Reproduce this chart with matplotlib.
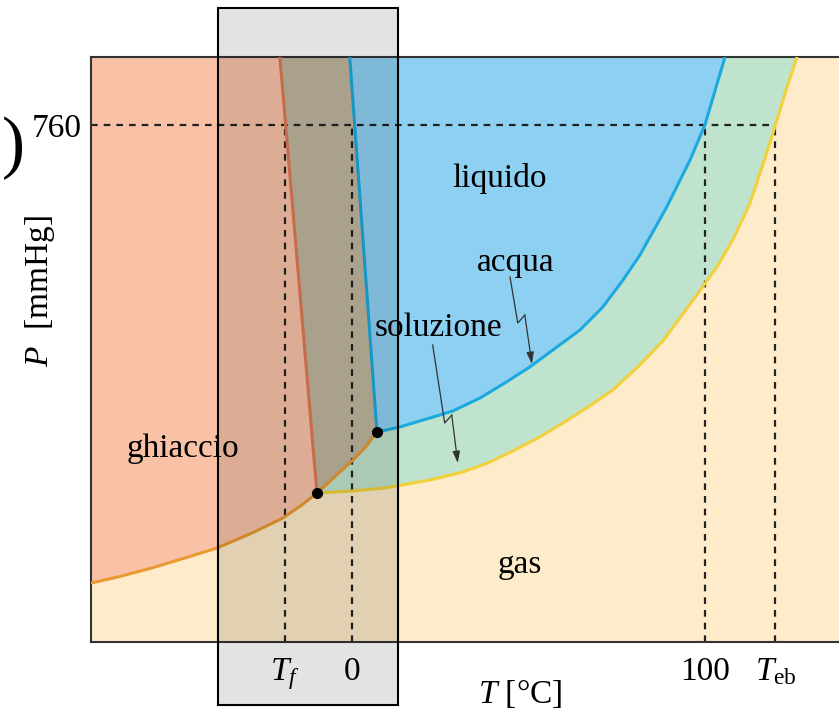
import numpy as np
import matplotlib
matplotlib.use("Agg")
import matplotlib.pyplot as plt
from matplotlib.patches import Rectangle

plt.rcParams['font.family'] = 'serif'
plt.rcParams['font.serif'] = ['Liberation Serif', 'DejaVu Serif']
plt.rcParams['mathtext.fontset'] = 'custom'
plt.rcParams['mathtext.rm'] = 'Liberation Serif'
plt.rcParams['mathtext.it'] = 'Liberation Serif:italic'

# reference values (T in °C, P in mmHg)
T_f = -19.0
T_eb = 120.0
P_atm = 760
T_lim = (-73.9, 138.0)
P_lim = (0, 860)

# triple points (pure water / solution)
T_tp_acqua, P_tp_acqua = 7.1, 308.7
T_tp_sol, P_tp_sol = -9.9, 219.0

# ice sublimation curve
T_subl = [-73.9, -66.3, -56.7, -47.3, -38.2, -28.3, -19.5, -14.2, -9.9, -2.8, 0.3, 3.7, 7.1]
P_subl = [86.7, 95.6, 108.8, 123.5, 138.2, 160.2, 182.3, 201.4, 219.0, 252.8, 267.5, 285.7, 308.7]

# vaporization curve, pure water
T_vap_acqua = [7.1, 13.6, 22.1, 28.6, 36.3, 43.3, 50.4, 58.1, 64.6, 71.1, 76.8, 81.6,
               89.2, 95.8, 100.0, 105.7]
P_vap_acqua = [308.7, 316.1, 329.3, 339.6, 358.7, 380.7, 404.3, 433.7, 458.6, 492.5, 532.1,
               568.9, 639.5, 708.5, 760, 860]

# vaporization curve, solution
T_vap_sol = [-9.9, 0.0, 9.3, 22.1, 31.4, 38.5, 45.6, 52.7, 59.8, 66.9, 73.9, 81.0, 88.1,
             92.9, 97.7, 103.4, 107.9, 112.7, 116.4, 120.0, 123.2, 126.1]
P_vap_sol = [219.0, 222.0, 226.4, 238.1, 249.9, 263.1, 280.8, 299.9, 321.9, 345.5, 370.4,
             404.3, 442.5, 476.3, 510.1, 551.3, 590.9, 643.9, 701.2, 760, 814.4, 860]

# melting lines
T_fus_acqua = [7.1, -0.6]
P_fus_acqua = [308.7, 860]
T_fus_sol = [-9.9, -20.4]
P_fus_sol = [219.0, 860]

# little "lightning" arrows pointing at the two curves
T_arrow_acqua = [44.8, 47.0, 49.0, 51.0]
P_arrow_acqua = [536.6, 468.9, 480.7, 408.7]
T_arrow_sol = [22.9, 26.3, 28.3, 30.0]
P_arrow_sol = [436.6, 321.9, 333.7, 263.1]

xtick_pos = [T_f, 0, 100, T_eb]
xtick_labels = ['$T_f$', '0', '100', r'$T_{\mathrm{eb}}$']

c_gas = '#FDEBC9'
c_ice = '#F9C2A7'
c_liq = '#8ED0F2'
c_sol = '#BFE3CC'
c_mix = '#BEB59E'

fig = plt.figure(figsize=(8.39, 7.19), dpi=100)
ax = fig.add_axes([91/839, 77/719, 748/839, 585/719])
ax.set_xlim(*T_lim)
ax.set_ylim(*P_lim)
ax.set_facecolor(c_gas)

i_s = T_subl.index(T_tp_sol)
top = P_lim[1]

# regions
ax.fill(T_vap_sol + [T_fus_sol[1]], P_vap_sol + [top], color=c_sol, lw=0, zorder=1)
ax.fill(T_vap_acqua + [T_fus_acqua[1]], P_vap_acqua + [top], color=c_liq, lw=0, zorder=1)
ax.fill([T_lim[0]] + T_subl[:i_s + 1] + [T_fus_sol[1]],
        [top] + P_subl[:i_s + 1] + [top], color=c_ice, lw=0, zorder=1)
ax.fill([T_fus_sol[1]] + T_subl[i_s:] + [T_fus_acqua[1]],
        [top] + P_subl[i_s:] + [top], color=c_mix, lw=0, zorder=1)

# dashed guides
dash = dict(color='#222222', lw=1.6, ls=(0, (3, 2.7)), zorder=2)
ax.plot([T_lim[0], T_eb], [P_atm, P_atm], **dash)
for t in xtick_pos:
    ax.plot([t, t], [P_lim[0], P_atm], **dash)

# curves
lk = dict(lw=2.2, zorder=3, solid_joinstyle='round', solid_capstyle='round')
ax.plot(T_vap_sol, P_vap_sol, color='#F2D03A', **lk)
ax.plot(T_vap_acqua, P_vap_acqua, color='#1BA9DF', **lk)
ax.plot(T_fus_acqua, P_fus_acqua, color='#1BA9DF', **lk)
ax.plot(T_fus_sol, P_fus_sol, color='#E07A55', **lk)
ax.plot(T_subl, P_subl, color='#E99A30', **lk)
ax.plot([T_tp_acqua, T_tp_sol], [P_tp_acqua, P_tp_sol], 'o', color='black', ms=7, zorder=4)

# arrows
for ta, pa in [(T_arrow_acqua, P_arrow_acqua), (T_arrow_sol, P_arrow_sol)]:
    ax.plot(ta[:-1], pa[:-1], color='#333333', lw=0.9, zorder=4)
    ax.annotate('', xy=(ta[-1], pa[-1]), xytext=(ta[-2], pa[-2]),
                arrowprops=dict(arrowstyle='-|>,head_length=0.7,head_width=0.22',
                                color='#333333', lw=0.9, shrinkA=0, shrinkB=0),
                zorder=4)

# labels
fs = 24
ax.text(41.9, 682, 'liquido', fontsize=fs, ha='center', va='center', zorder=5)
ax.text(46.5, 557, 'acqua', fontsize=fs, ha='center', va='center', zorder=5)
ax.text(24.4, 462, 'soluzione', fontsize=fs, ha='center', va='center', zorder=5)
ax.text(-47.9, 284, 'ghiaccio', fontsize=fs, ha='center', va='center', zorder=5)
ax.text(47.6, 113, 'gas', fontsize=fs, ha='center', va='center', zorder=5)

ax.set_xticks(xtick_pos, xtick_labels)
ax.set_yticks([P_atm], ['760'])
ax.tick_params(axis='both', length=0, labelsize=fs)
ax.tick_params(axis='x', pad=10.5)
ax.tick_params(axis='y', pad=6.5)

ax.set_xlabel('$T$ [°C]', fontsize=fs)
ax.xaxis.set_label_coords(0.5735, -0.06)
ax.set_ylabel('$P$  [mmHg]', fontsize=fs)
ax.yaxis.set_label_coords(-0.068, 0.60)
ax.yaxis.label.set_va('center')

for side in ['left', 'top', 'bottom']:
    ax.spines[side].set_color('#333333')
    ax.spines[side].set_linewidth(1.5)
ax.spines['right'].set_visible(False)

# highlight box
fig.add_artist(Rectangle((218/839, 14/719), 180/839, 697/719,
                         transform=fig.transFigure, facecolor=(0, 0, 0, 0.11),
                         edgecolor='black', lw=1.5, zorder=10))

fig.text(13/839, 1 - 148/719, ')', fontsize=50, ha='center', va='center')

fig.savefig('out.png', dpi=100)
